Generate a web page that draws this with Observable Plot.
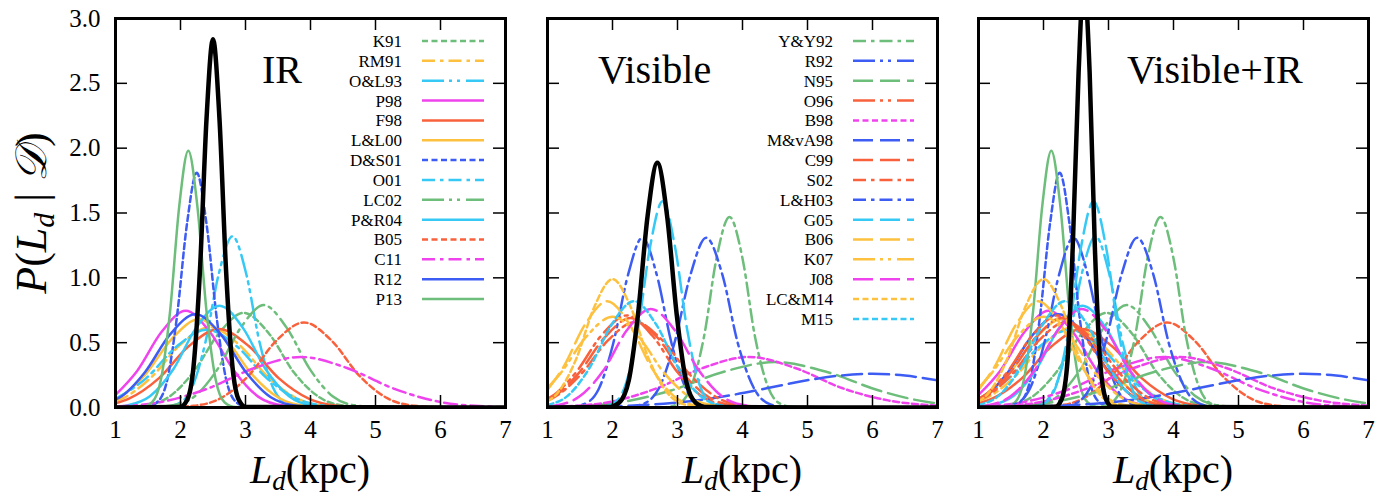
<!DOCTYPE html>
<html><head><meta charset="utf-8">
<script src="https://cdn.jsdelivr.net/npm/d3@7"></script>
<script src="https://cdn.jsdelivr.net/npm/@observablehq/plot@0.6"></script>
<style>
body{margin:0;background:#fff;}
#wrap{position:relative;width:1388px;height:500px;overflow:hidden;background:#fff;}
#wrap svg{position:absolute;top:0;}
</style></head><body><div id="wrap"></div>
<script>
// ---------- data ----------
const xTicks = [1, 2, 3, 4, 5, 6, 7];
const yTicks = [0, 0.5, 1, 1.5, 2, 2.5, 3];

// IR estimates: [L_d (kpc), P]
const K91  = [[1,0.001],[1.43,0.014],[1.82,0.081],[2.2,0.274],[2.59,0.571],[2.97,0.73],[3.36,0.571],[3.74,0.274],[4.13,0.081],[4.51,0.014],[4.95,0.001],[7,0]];
const RM91 = [[1,0.049],[1.1,0.068],[1.55,0.233],[2.0,0.485],[2.45,0.62],[2.9,0.485],[3.35,0.233],[3.8,0.068],[4.25,0.012],[4.77,0.001],[7,0]];
const OL93 = [[1,0],[1.71,0.002],[1.95,0.026],[2.17,0.146],[2.38,0.495],[2.59,1.033],[2.8,1.32],[3.01,1.033],[3.22,0.495],[3.43,0.146],[3.65,0.026],[3.89,0.002],[7,0]];
const P98  = [[1,0.097],[1.33,0.28],[1.71,0.584],[2.08,0.746],[2.45,0.584],[2.83,0.28],[3.2,0.082],[3.58,0.015],[4.01,0.001],[7,0]];
const F98  = [[1,0.033],[1.2,0.067],[1.67,0.227],[2.13,0.474],[2.59,0.605],[3.05,0.474],[3.51,0.227],[3.98,0.067],[4.44,0.012],[4.97,0.001],[7,0]];
const LL00 = [[1,0.062],[1.05,0.075],[1.46,0.255],[1.87,0.532],[2.28,0.68],[2.69,0.532],[3.1,0.255],[3.51,0.075],[3.92,0.013],[4.39,0.001],[7,0]];
const DS01 = [[1,0],[1.46,0.003],[1.63,0.036],[1.79,0.2],[1.94,0.679],[2.1,1.417],[2.25,1.81],[2.4,1.417],[2.56,0.679],[2.71,0.2],[2.87,0.036],[3.04,0.003],[7,0]];
const O01  = [[1,0.066],[1.47,0.225],[1.94,0.47],[2.4,0.6],[2.87,0.47],[3.33,0.225],[3.8,0.066],[4.26,0.012],[4.79,0.001],[7,0]];
const LC02 = [[1,0],[1.46,0.001],[1.87,0.016],[2.22,0.087],[2.57,0.296],[2.93,0.618],[3.28,0.79],[3.63,0.618],[3.99,0.296],[4.34,0.087],[4.69,0.016],[5.1,0.001],[7,0]];
const PR04 = [[1,0.005],[1.18,0.016],[1.53,0.087],[1.89,0.295],[2.24,0.614],[2.6,0.785],[2.96,0.614],[3.31,0.295],[3.67,0.087],[4.02,0.016],[4.43,0.001],[7,0]];
const B05  = [[1,0],[1.71,0.001],[2.2,0.013],[2.62,0.072],[3.05,0.246],[3.47,0.513],[3.9,0.656],[4.33,0.513],[4.75,0.246],[5.18,0.072],[5.6,0.013],[6.09,0.001],[7,0]];
const C11  = [[1,0.008],[1.71,0.043],[2.42,0.146],[3.14,0.305],[3.85,0.39],[4.56,0.305],[5.28,0.146],[5.99,0.043],[6.71,0.008],[7,0.003]];
const R12  = [[1,0.061],[1.07,0.079],[1.45,0.27],[1.84,0.564],[2.23,0.72],[2.62,0.564],[3.01,0.27],[3.39,0.079],[3.78,0.014],[4.22,0.001],[7,0]];
const P13  = [[1,0],[1.4,0.003],[1.56,0.039],[1.7,0.218],[1.84,0.743],[1.98,1.55],[2.12,1.98],[2.26,1.55],[2.4,0.743],[2.54,0.218],[2.68,0.039],[2.85,0.003],[7,0]];
const IR_TOTAL = [[1,0],[1.99,0.004],[2.1,0.056],[2.2,0.313],[2.3,1.066],[2.4,2.223],[2.5,2.84],[2.6,2.223],[2.7,1.066],[2.8,0.313],[2.9,0.056],[3.01,0.004],[7,0]];

// Visible estimates
const YY92  = [[1,0],[2.79,0.002],[3.02,0.029],[3.21,0.162],[3.41,0.552],[3.6,1.15],[3.8,1.47],[4.0,1.15],[4.19,0.552],[4.39,0.162],[4.58,0.029],[4.81,0.002],[7,0]];
const R92   = [[1,0],[1.31,0.002],[1.56,0.026],[1.79,0.145],[2.01,0.492],[2.24,1.025],[2.46,1.31],[2.68,1.025],[2.91,0.492],[3.13,0.145],[3.36,0.026],[3.61,0.002],[7,0]];
const N95   = [[1,0.003],[1.31,0.007],[2.11,0.039],[2.9,0.131],[3.7,0.274],[4.5,0.35],[5.3,0.274],[6.1,0.131],[6.89,0.039],[7,0.032]];
const O96   = [[1,0.067],[1.04,0.078],[1.43,0.266],[1.83,0.556],[2.22,0.71],[2.61,0.556],[3.01,0.266],[3.4,0.078],[3.79,0.014],[4.24,0.001],[7,0]];
const B98   = [[1,0.004],[1.24,0.008],[1.96,0.043],[2.67,0.146],[3.39,0.305],[4.1,0.39],[4.81,0.305],[5.53,0.15],[6.24,0.055],[6.96,0.016],[7,0.015]];
const MvA98 = [[1,0.001],[1.72,0.005],[2.25,0.013],[2.79,0.029],[3.32,0.056],[3.86,0.098],[4.39,0.15],[4.93,0.204],[5.46,0.244],[6,0.26],[6.5,0.246],[7,0.21]];
const C99   = [[1,0.059],[1.07,0.076],[1.47,0.259],[1.88,0.54],[2.28,0.69],[2.69,0.54],[3.09,0.259],[3.49,0.076],[3.9,0.014],[4.36,0.001],[7,0]];
const S02   = [[1,0.055],[1.08,0.073],[1.5,0.248],[1.93,0.517],[2.35,0.66],[2.77,0.517],[3.2,0.248],[3.62,0.073],[4.04,0.013],[4.53,0.001],[7,0]];
const LH03  = [[1,0],[2.18,0.002],[2.46,0.026],[2.71,0.145],[2.95,0.492],[3.2,1.025],[3.44,1.31],[3.69,1.025],[3.93,0.492],[4.18,0.145],[4.42,0.026],[4.7,0.002],[7,0]];
const G05   = [[1,0],[1.8,0.002],[2.01,0.031],[2.2,0.175],[2.39,0.597],[2.58,1.244],[2.77,1.59],[2.96,1.244],[3.15,0.597],[3.34,0.175],[3.53,0.031],[3.74,0.002],[7,0]];
const B06   = [[1,0.137],[1.24,0.308],[1.58,0.642],[1.92,0.82],[2.26,0.642],[2.6,0.308],[2.94,0.09],[3.28,0.016],[3.67,0.001],[7,0]];
const K07   = [[1,0.15],[1.2,0.263],[1.6,0.548],[2,0.7],[2.4,0.548],[2.8,0.263],[3.2,0.077],[3.6,0.014],[4.05,0.001],[7,0]];
const J08   = [[1,0.008],[1.12,0.015],[1.49,0.084],[1.86,0.285],[2.22,0.595],[2.59,0.76],[2.96,0.595],[3.33,0.285],[3.69,0.084],[4.06,0.015],[4.48,0.001],[7,0]];
const LCM14 = [[1,0.046],[1.15,0.109],[1.44,0.372],[1.72,0.775],[2,0.99],[2.28,0.775],[2.56,0.372],[2.85,0.109],[3.13,0.02],[3.45,0.001],[7,0]];
const M15   = [[1,0.02],[1.31,0.09],[1.65,0.308],[1.99,0.642],[2.33,0.82],[2.67,0.642],[3.01,0.308],[3.35,0.09],[3.69,0.016],[4.08,0.001],[7,0]];
const VIS_TOTAL = [[1,0],[1.93,0.003],[2.1,0.037],[2.25,0.208],[2.39,0.708],[2.54,1.477],[2.69,1.887],[2.84,1.477],[2.99,0.708],[3.13,0.208],[3.28,0.037],[3.45,0.003],[7,0]];

// Visible + IR combined
const ALL_TOTAL = [[1,0],[2.18,0.005],[2.28,0.065],[2.37,0.364],[2.45,1.238],[2.54,2.583],[2.62,3.3],[2.71,2.583],[2.79,1.238],[2.87,0.364],[2.96,0.065],[3.06,0.005],[7,0]];

const irLabels  = ["K91","RM91","O&L93","P98","F98","L&L00","D&S01","O01","LC02","P&R04","B05","C11","R12","P13"];
const irData    = [K91, RM91, OL93, P98, F98, LL00, DS01, O01, LC02, PR04, B05, C11, R12, P13];
const visLabels = ["Y&Y92","R92","N95","O96","B98","M&vA98","C99","S02","L&H03","G05","B06","K07","J08","LC&M14","M15"];
const visData   = [YY92, R92, N95, O96, B98, MvA98, C99, S02, LH03, G05, B06, K07, J08, LCM14, M15];

// ---------- styles ----------
const COL = {green:"#6dbd7b", yellow:"#fdc13f", cyan:"#36c9f6", magenta:"#ef43ee", red:"#f9613c", blue:"#3d5cf3"};
const DASH = {solid:null, dot:"6,3.5", dashdot:"13,5,3.5,5", dashdotdot:"22,5,3,5,3,6", long:"20,7"};
const irColor  = ["green","yellow","cyan","magenta","red","yellow","blue","cyan","green","cyan","red","magenta","blue","green"];
const irDash   = ["dot","dashdot","dashdotdot","solid","solid","solid","dot","dashdot","dashdotdot","solid","dot","dashdot","solid","solid"];
const visColor = ["green","blue","green","red","magenta","blue","red","red","blue","cyan","yellow","yellow","magenta","yellow","cyan"];
const visDash  = ["dashdot","dashdotdot","long","dashdotdot","dot","long","long","dashdot","dashdot","long","long","dashdotdot","long","dot","dot"];

const FONT = "'Liberation Serif','Times New Roman',serif";
const irSeries = irData.map((d,i)=>({label:irLabels[i], data:d, color:COL[irColor[i]], dash:DASH[irDash[i]]}));
const visSeries = visData.map((d,i)=>({label:visLabels[i], data:d, color:COL[visColor[i]], dash:DASH[visDash[i]]}));

const H = 500, MT = 18, MB = 93, TICK = 12;
const innerH = H - MT - MB;

function panel({left, width, mL, mR, series, total, title, titleX, showY, legend}) {
  const innerW = width - mL - mR;
  const marks = [];
  for (const s of series) {
    marks.push(Plot.line(s.data, {x: d=>d[0], y: d=>d[1], stroke: s.color, strokeWidth: 2.5,
      strokeDasharray: s.dash, curve: "monotone-x", clip: true}));
  }
  marks.push(Plot.line(total, {x: d=>d[0], y: d=>d[1], stroke: "black", strokeWidth: 4.5,
    curve: "monotone-x", clip: true}));
  marks.push(Plot.tickX(xTicks, {x: d=>d, insetTop: innerH - TICK, stroke: "black", strokeWidth: 1.5}));
  marks.push(Plot.tickX(xTicks, {x: d=>d, insetBottom: innerH - TICK, stroke: "black", strokeWidth: 1.5}));
  marks.push(Plot.tickY(yTicks, {y: d=>d, insetRight: innerW - TICK, stroke: "black", strokeWidth: 1.5}));
  marks.push(Plot.tickY(yTicks, {y: d=>d, insetLeft: innerW - TICK, stroke: "black", strokeWidth: 1.5}));
  marks.push(Plot.frame({stroke: "black", strokeWidth: 3}));
  marks.push(Plot.text(xTicks, {x: d=>d, frameAnchor: "bottom", dy: 30, text: d=>String(d),
    fontSize: 25, fill: "black"}));
  if (showY) {
    marks.push(Plot.text(yTicks, {y: d=>d, frameAnchor: "left", dx: -15, textAnchor: "end",
      text: d=>d.toFixed(1), fontSize: 25, fill: "black"}));
  }
  const svg = Plot.plot({
    width, height: H, marginTop: MT, marginBottom: MB, marginLeft: mL, marginRight: mR,
    x: {domain: [1, 7], axis: null},
    y: {domain: [0, 3], axis: null},
    style: {fontFamily: FONT, fontSize: "25px", background: "transparent", overflow: "visible", color: "black"},
    marks
  });
  svg.style.left = left + "px";
  const g = d3.select(svg);
  // panel title
  g.append("text").attr("x", titleX).attr("y", 83).attr("text-anchor", "start").attr("font-family", FONT)
    .attr("font-size", 40).attr("fill", "black").text(title);
  // x axis title
  const xt = g.append("text").attr("x", mL + innerW / 2).attr("y", 483).attr("text-anchor", "middle")
    .attr("font-family", FONT).attr("font-size", 40).attr("fill", "black");
  xt.append("tspan").attr("font-style", "italic").text("L");
  xt.append("tspan").attr("font-style", "italic").attr("font-size", 27).attr("dy", 7).text("d");
  xt.append("tspan").attr("dy", -7).text("(kpc)");
  if (showY) {
    const yt = g.append("text").attr("transform", "translate(46,213) rotate(-90)").attr("text-anchor", "middle")
      .attr("font-family", FONT).attr("font-size", 44).attr("fill", "black");
    yt.append("tspan").attr("font-style", "italic").text("P");
    yt.append("tspan").text("(");
    yt.append("tspan").attr("font-style", "italic").text("L");
    yt.append("tspan").attr("font-style", "italic").attr("font-size", 30).attr("dy", 8).text("d");
    yt.append("tspan").attr("dy", -8).text(" | ");
    yt.append("tspan").attr("font-style", "italic").text("\u{1D49F}");
    yt.append("tspan").text(")");
  }
  if (legend) {
    const lg = g.append("g");
    legend.series.forEach((s, i) => {
      const y = 41 + i * 19.85;
      lg.append("text").attr("x", legend.textX).attr("y", y).attr("dy", "0.35em").attr("text-anchor", "end")
        .attr("font-family", FONT).attr("font-size", 17).attr("fill", "black").text(s.label);
      lg.append("line").attr("x1", legend.x1).attr("x2", legend.x2).attr("y1", y).attr("y2", y)
        .attr("stroke", s.color).attr("stroke-width", 2.5).attr("stroke-dasharray", s.dash);
    });
  }
  document.getElementById("wrap").appendChild(svg);
}

panel({left: 0, width: 520, mL: 115, mR: 15, series: irSeries, total: IR_TOTAL, title: "IR", titleX: 262,
  showY: true, legend: {series: irSeries, textX: 402, x1: 422, x2: 484}});
panel({left: 532, width: 420, mL: 15, mR: 15, series: visSeries, total: VIS_TOTAL, title: "Visible", titleX: 66,
  showY: false, legend: {series: visSeries, textX: 301, x1: 321, x2: 382}});
panel({left: 963, width: 420, mL: 15, mR: 15, series: irSeries.concat(visSeries), total: ALL_TOTAL,
  title: "Visible+IR", titleX: 164, showY: false, legend: null});
</script>
</body></html>
